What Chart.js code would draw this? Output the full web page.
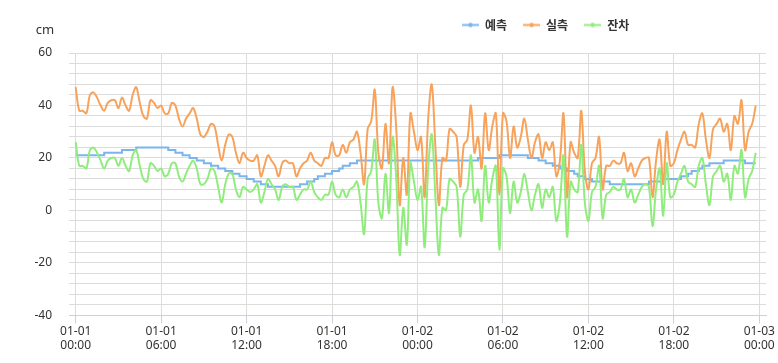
<!DOCTYPE html>
<html lang="ko">
<head>
<meta charset="utf-8">
<title>예측 / 실측 / 잔차</title>
<script src="https://cdn.jsdelivr.net/npm/chart.js@4.4.1/dist/chart.umd.min.js"></script>
<style>
  html, body { margin: 0; padding: 0; background: #fff; }
  #wrap { width: 778px; height: 363px; }
</style>
</head>
<body>
<div id="wrap"><canvas id="tideChart" width="778" height="363"></canvas></div>
<script>
// one sample every 15 minutes, starting 01-01 00:00 (x axis in hours)
const stepHours = 0.25;

// 예측 (cm)
const predicted = [
  21, 21, 21, 21, 21, 21, 21, 21, 22, 22, 22, 22,
  22, 23, 23, 23, 23, 24, 24, 24, 24, 24, 24, 24,
  24, 24, 23, 23, 22, 22, 21, 21, 20, 20, 19, 19,
  18, 18, 17, 17, 16, 16, 15, 15, 14, 14, 13, 13,
  12, 12, 11, 11, 10, 10, 9, 9, 9, 9, 9, 9,
  9, 9, 9, 10, 10, 11, 11, 12, 13, 13, 14, 14,
  15, 15, 16, 17, 17, 18, 18, 19, 19, 19, 19, 19,
  19, 19, 19, 19, 19, 19, 19, 19, 19, 19, 19, 19,
  19, 19, 19, 19, 19, 19, 19, 19, 19, 19, 19, 19,
  19, 19, 19, 19, 19, 20, 20, 20, 20, 20, 20, 21,
  21, 21, 21, 21, 21, 21, 21, 20, 20, 20, 19, 19,
  18, 18, 17, 17, 16, 16, 15, 15, 14, 13, 13, 12,
  12, 11, 11, 11, 11, 11, 10, 10, 10, 10, 10, 10,
  10, 10, 10, 10, 10, 11, 11, 11, 11, 12, 12, 12,
  12, 12, 13, 13, 14, 15, 15, 16, 17, 17, 18, 18,
  18, 18, 19, 19, 19, 19, 19, 19, 18, 18, 18, 18
];

// 실측 (cm)
const observed = [
  47, 38, 38, 37, 44, 45, 43, 40, 38, 41, 42, 42,
  39, 43, 40, 38, 44, 47, 41, 36, 35, 42, 41, 39,
  40, 37, 37, 41, 40, 35, 32, 35, 37, 39, 35, 29,
  28, 30, 33, 32, 25, 19, 25, 29, 28, 22, 18, 22,
  20, 19, 19, 21, 13, 17, 21, 19, 17, 13, 18, 19,
  18, 18, 13, 16, 18, 19, 22, 19, 18, 17, 20, 20,
  26, 21, 21, 25, 22, 26, 27, 30, 22, 10, 31, 34,
  46, 22, 16, 33, 18, 47, 32, 2, 20, 6, 37, 30,
  23, 28, 5, 35, 48, 25, 2, 20, 19, 31, 30, 28,
  9, 25, 27, 40, 22, 28, 16, 37, 23, 32, 37, 6,
  37, 34, 20, 32, 24, 28, 35, 27, 20, 26, 29, 20,
  26, 23, 26, 13, 19, 37, 5, 26, 22, 20, 38, 15,
  8, 18, 20, 28, 8, 17, 17, 19, 18, 18, 22, 15,
  18, 13, 16, 19, 20, 20, 5, 19, 27, 10, 30, 17,
  18, 23, 27, 30, 25, 25, 24, 33, 37, 27, 20, 31,
  33, 35, 30, 33, 23, 36, 33, 42, 23, 30, 33, 40
];

// 잔차 (cm)
const residual = [
  26, 17, 17, 16, 23, 24, 22, 19, 16, 19, 20, 20,
  17, 20, 17, 15, 21, 23, 17, 12, 11, 18, 17, 15,
  16, 13, 14, 18, 18, 13, 11, 14, 17, 19, 16, 10,
  10, 12, 16, 15, 9, 3, 10, 14, 14, 8, 5, 9,
  8, 7, 8, 10, 3, 7, 12, 10, 8, 4, 9, 10,
  9, 9, 4, 6, 8, 8, 11, 7, 5, 4, 6, 6,
  11, 6, 5, 8, 5, 8, 9, 11, 3, -9, 12, 15,
  27, 3, -3, 14, -1, 28, 13, -17, 1, -13, 18, 11,
  4, 9, -14, 16, 29, 6, -17, 1, 0, 12, 11, 9,
  -10, 6, 8, 21, 3, 8, -4, 17, 3, 12, 17, -15,
  16, 13, -1, 11, 3, 7, 14, 7, 0, 6, 10, 1,
  8, 5, 9, -4, 3, 21, -10, 11, 8, 7, 25, 3,
  -4, 7, 9, 17, -3, 6, 7, 9, 8, 8, 12, 5,
  8, 3, 6, 9, 10, 9, -6, 8, 16, -2, 18, 5,
  6, 11, 14, 17, 11, 10, 9, 17, 20, 10, 2, 13,
  15, 17, 11, 14, 4, 17, 14, 23, 5, 12, 15, 22
];

const seriesNames = ["예측", "실측", "잔차"];
const seriesColors = ["#7cb5ec", "#f7a35c", "#90ed7d"];

const xTickValues = [0, 6, 12, 18, 24, 30, 36, 42, 48];
const xTickLabels = [
  ["01-01", "00:00"], ["01-01", "06:00"], ["01-01", "12:00"], ["01-01", "18:00"],
  ["01-02", "00:00"], ["01-02", "06:00"], ["01-02", "12:00"], ["01-02", "18:00"],
  ["01-03", "00:00"]
];

const toPoints = (values) => values.map((v, i) => ({ x: i * stepHours, y: v }));

// little line-with-dot marker for the legend
function legendMarker(color) {
  const c = document.createElement("canvas");
  c.width = 17;
  c.height = 7;
  const g = c.getContext("2d");
  g.strokeStyle = color;
  g.lineWidth = 2;
  g.beginPath();
  g.moveTo(0, 3.5);
  g.lineTo(17, 3.5);
  g.stroke();
  g.fillStyle = color;
  g.beginPath();
  g.arc(8.5, 3.5, 2.2, 0, Math.PI * 2);
  g.fill();
  return c;
}

const numFont = { family: "'Noto Sans', 'DejaVu Sans', sans-serif", size: 12 };

// legend sits right of centre and a bit above the plot, "cm" above the y axis
const legendPlacement = {
  id: "legendPlacement",
  afterInit(chart) {
    const legend = chart.legend;
    const fit = legend.fit;
    legend.fit = function () {
      fit.call(this);
      this.height += 12;
    };
  },
  afterLayout(chart) {
    chart.legend.left = 446;
  }
};

const unitLabel = {
  id: "unitLabel",
  afterDraw(chart) {
    const ctx = chart.ctx;
    ctx.save();
    ctx.font = "13px 'Noto Sans', sans-serif";
    ctx.fillStyle = "#333";
    ctx.textAlign = "center";
    ctx.textBaseline = "middle";
    ctx.fillText("cm", 45, 30);
    ctx.restore();
  }
};

const ctx = document.getElementById("tideChart").getContext("2d");
const tideChart = new Chart(ctx, {
  type: "line",
  data: {
    datasets: [
      {
        label: seriesNames[0],
        data: toPoints(predicted),
        borderColor: seriesColors[0],
        backgroundColor: seriesColors[0],
        borderWidth: 2,
        stepped: true,
        pointRadius: 0,
        pointStyle: legendMarker(seriesColors[0]),
        order: 3
      },
      {
        label: seriesNames[1],
        data: toPoints(observed),
        borderColor: seriesColors[1],
        backgroundColor: seriesColors[1],
        borderWidth: 2,
        tension: 0.35,
        pointRadius: 0,
        pointStyle: legendMarker(seriesColors[1]),
        order: 2
      },
      {
        label: seriesNames[2],
        data: toPoints(residual),
        borderColor: seriesColors[2],
        backgroundColor: seriesColors[2],
        borderWidth: 2,
        tension: 0.35,
        pointRadius: 0,
        pointStyle: legendMarker(seriesColors[2]),
        order: 1
      }
    ]
  },
  options: {
    responsive: false,
    animation: false,
    layout: { padding: { top: 3, right: 12, bottom: 10, left: 0 } },
    plugins: {
      legend: {
        align: "start",
        labels: {
          usePointStyle: true,
          pointStyleWidth: 17,
          boxHeight: 7,
          padding: 16,
          color: "#333",
          font: { family: "'Noto Sans CJK KR', sans-serif", size: 12, weight: "bold" },
          sort: (a, b) => a.datasetIndex - b.datasetIndex
        }
      },
      tooltip: { enabled: false }
    },
    scales: {
      x: {
        type: "linear",
        min: -0.47,
        max: 48.47,
        afterBuildTicks: (scale) => {
          scale.ticks = xTickValues.map((v) => ({ value: v }));
        },
        ticks: {
          autoSkip: false,
          maxRotation: 0,
          padding: 1,
          color: "#333",
          font: { ...numFont, lineHeight: 1.15 },
          callback: (value) => xTickLabels[xTickValues.indexOf(value)]
        },
        grid: { color: "#dcdcdc", tickColor: "#c6d2e2", tickLength: 8 },
        border: { color: "#c6d2e2" }
      },
      y: {
        min: -40,
        max: 60,
        afterFit: (scale) => {
          scale.width = 69;
        },
        ticks: {
          stepSize: 4,
          autoSkip: false,
          padding: 17,
          color: "#333",
          font: numFont,
          callback: (value) => (value % 20 === 0 ? value : "")
        },
        grid: { color: "#dcdcdc", drawTicks: false },
        border: { display: false }
      }
    }
  },
  plugins: [legendPlacement, unitLabel]
});
</script>
</body>
</html>
